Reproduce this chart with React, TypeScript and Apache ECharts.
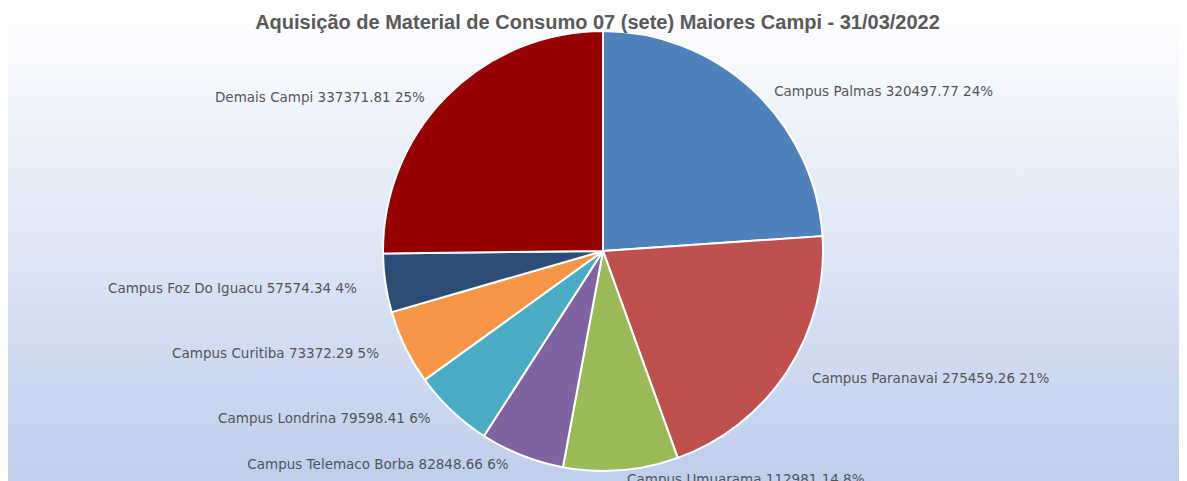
import React, { useEffect, useRef } from "react";
import * as echarts from "echarts";

const titleText = "Aquisição de Material de Consumo 07 (sete) Maiores Campi - 31/03/2022";

const categories = [
  "Campus Palmas",
  "Campus Paranavai",
  "Campus Umuarama",
  "Campus Telemaco Borba",
  "Campus Londrina",
  "Campus Curitiba",
  "Campus Foz Do Iguacu",
  "Demais Campi",
];

const values = [320497.77, 275459.26, 112981.14, 82848.66, 79598.41, 73372.29, 57574.34, 337371.81];

const colors = ["#4f81bd", "#c0504d", "#9bbb59", "#8064a2", "#4bacc6", "#f79646", "#2c4d75", "#960000"];

export default function App() {
  const ref = useRef<HTMLDivElement>(null);

  useEffect(() => {
    document.body.style.overflow = "hidden";
    const chart = echarts.init(ref.current!, undefined, { renderer: "svg" });
    const cx = 595;
    const cy = 243;
    chart.setOption({
      animation: false,
      backgroundColor: new echarts.graphic.LinearGradient(0, 0, 0, 1, [
        { offset: 0, color: "#ffffff" },
        { offset: 0.25, color: "#eef2fa" },
        { offset: 1, color: "#bfceec" },
      ]),
      title: {
        text: titleText,
        left: "center",
        top: -1,
        textStyle: {
          fontFamily: "Liberation Sans, Arial, sans-serif",
          fontSize: 20,
          fontWeight: "bold",
          color: "#5a5a5a",
        },
      },
      series: [
        {
          type: "pie",
          center: [cx, cy],
          radius: 220,
          startAngle: 90,
          clockwise: true,
          percentPrecision: 2,
          avoidLabelOverlap: false,
          itemStyle: { borderColor: "#ffffff", borderWidth: 2 },
          label: {
            show: true,
            position: "outside",
            formatter: (p: any) => `${p.name} ${p.value} ${Math.round(p.percent)}%`,
            fontFamily: "DejaVu Sans, Verdana, sans-serif",
            fontSize: 13.5,
            color: "#555555",
            distanceToLabelLine: 4,
          },
          labelLine: { show: false, length: 14, length2: 0 },
          labelLayout: (params: any) => {
            const r = params.labelRect;
            const left = params.align !== "right";
            const ax = left ? r.x : r.x + r.width;
            const ay = r.y + r.height / 2;
            return {
              x: cx + (ax - cx) * 1.045,
              y: cy + (ay - cy) * 0.96 + 4,
              align: left ? "left" : "right",
              verticalAlign: "middle",
            };
          },
          emphasis: { disabled: true },
          data: categories.map((name, i) => ({
            name,
            value: values[i],
            itemStyle: { color: colors[i] },
          })),
        },
      ],
    });
    return () => chart.dispose();
  }, []);

  return <div ref={ref} style={{ width: 1179, height: 473 }} />;
}
